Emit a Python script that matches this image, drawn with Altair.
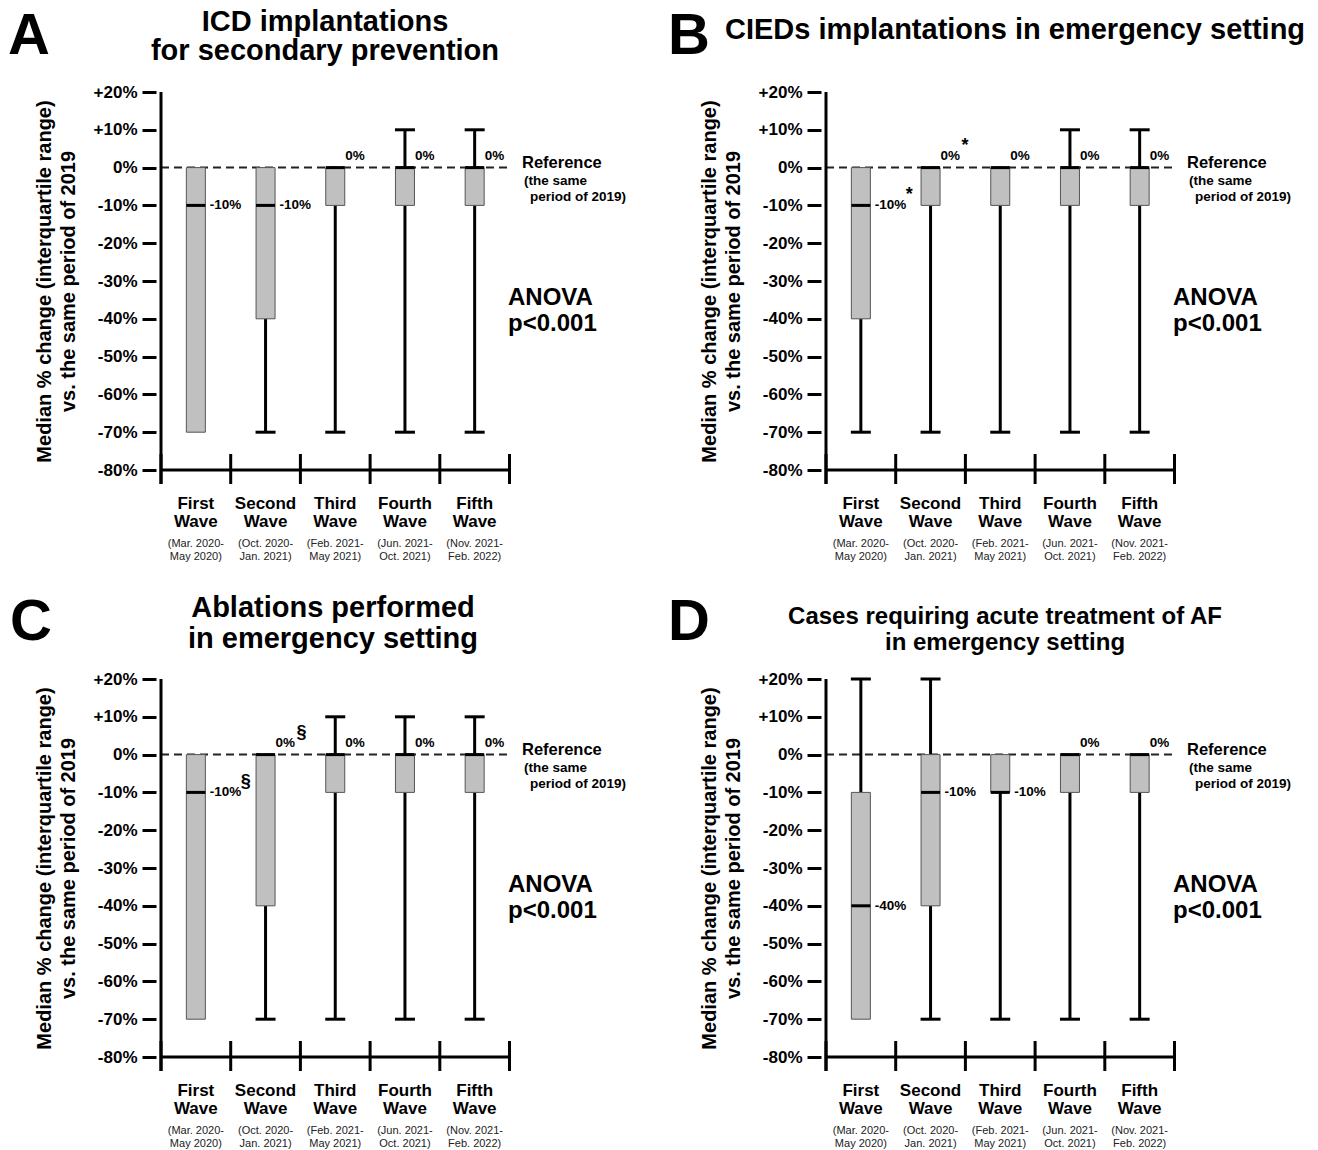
import altair as alt
import pandas as pd

# ---------------- data ----------------
waves = ["First", "Second", "Third", "Fourth", "Fifth"]
period_start = ["(Mar. 2020-", "(Oct. 2020-", "(Feb. 2021-", "(Jun. 2021-", "(Nov. 2021-"]
period_end = ["May 2020)", "Jan. 2021)", "May 2021)", "Oct. 2021)", "Feb. 2022)"]

# Panel A: ICD implantations for secondary prevention
a_min = [-70, -70, -70, -70, -70]
a_q1 = [-70, -40, -10, -10, -10]
a_med = [-10, -10, 0, 0, 0]
a_q3 = [0, 0, 0, 0, 0]
a_max = [0, 0, 0, 10, 10]
a_sup = ["", "", "", "", ""]

# Panel B: CIEDs implantations in emergency setting
b_min = [-70, -70, -70, -70, -70]
b_q1 = [-40, -10, -10, -10, -10]
b_med = [-10, 0, 0, 0, 0]
b_q3 = [0, 0, 0, 0, 0]
b_max = [0, 0, 0, 10, 10]
b_sup = ["*", "*", "", "", ""]

# Panel C: Ablations performed in emergency setting
c_min = [-70, -70, -70, -70, -70]
c_q1 = [-70, -40, -10, -10, -10]
c_med = [-10, 0, 0, 0, 0]
c_q3 = [0, 0, 0, 0, 0]
c_max = [0, 0, 10, 10, 10]
c_sup = ["§", "§", "", "", ""]

# Panel D: Cases requiring acute treatment of AF in emergency setting
d_min = [-70, -70, -70, -70, -70]
d_q1 = [-70, -40, -10, -10, -10]
d_med = [-40, -10, -10, 0, 0]
d_q3 = [-10, 0, 0, 0, 0]
d_max = [20, 20, 0, 0, 0]
d_sup = ["", "", "", "", ""]

y_ticks = [20, 10, 0, -10, -20, -30, -40, -50, -60, -70, -80]
y_title = ["Median % change (interquartile range)", "vs. the same period of 2019"]
ref_lines = ["Reference", "(the same", "period of 2019)"]
anova_lines = ["ANOVA", "p<0.001"]

# ---------------- layout ----------------
FONT = "Liberation Sans"
N = len(waves)
UNIT = 71.2
XMAX = 6.7
W = round(XMAX * UNIT)
H = 378

xscale = alt.Scale(domain=[0, XMAX], nice=False, zero=False)
yscale = alt.Scale(domain=[-80, 20], nice=False, zero=False)
yaxis = alt.Axis(
    values=y_ticks,
    labelExpr="datum.value > 0 ? '+' + datum.value + '%' : datum.value + '%'",
    labelFontSize=17, labelFontWeight="bold", labelColor="black", labelPadding=5,
    tickSize=14, tickWidth=3, tickColor="black", domain=False, grid=False,
    title=y_title, titleFontSize=20, titleFontWeight="bold", titleColor="black",
    titleLineHeight=24, titlePadding=15,
)


def X(field):
    return alt.X(field, type="quantitative", scale=xscale, axis=None)


def Y(field):
    return alt.Y(field, type="quantitative", scale=yscale, axis=yaxis)


def panel(letter, letter_x, letter_y, title_lines, title_x, title_ys, title_size,
          mins, q1s, meds, q3s, maxs, sups):
    df = pd.DataFrame({
        "pos": [i + 0.5 for i in range(N)],
        "wave": [w + "\nWave" for w in waves],
        "period": [s + "\n" + e for s, e in zip(period_start, period_end)],
        "mn": mins, "q1": q1s, "med": meds, "q3": q3s, "mx": maxs, "sup": sups,
    })
    df["label"] = [f"{v}%" for v in meds]
    base = alt.Chart(df)

    edges = pd.DataFrame({"e": list(range(N + 1))})
    frame = pd.DataFrame({"x0": [0], "x1": [N], "y0": [-80], "zero": [0], "x1r": [N + 0.03]})

    layers = []
    # dashed reference line at 0
    layers.append(alt.Chart(frame).mark_rule(strokeDash=[8, 5], strokeWidth=2, color="#222")
                  .encode(x=X("x0"), x2="x1r", y=Y("zero")))
    # axis lines
    layers.append(alt.Chart(frame).mark_rule(strokeWidth=3, color="black")
                  .encode(x=X("x0"), y=alt.value(0), y2=alt.value(H + 14)))
    layers.append(alt.Chart(frame).mark_rule(strokeWidth=3, color="black")
                  .encode(x=X("x0"), x2="x1", y=Y("y0")))
    layers.append(alt.Chart(edges).mark_rule(strokeWidth=3, color="black")
                  .encode(x=X("e"), y=alt.value(H - 16), y2=alt.value(H + 14)))
    # whiskers
    layers.append(base.mark_rule(strokeWidth=3, color="black").encode(x=X("pos"), y=Y("mn"), y2="q1"))
    layers.append(base.mark_rule(strokeWidth=3, color="black").encode(x=X("pos"), y=Y("q3"), y2="mx"))
    # boxes
    layers.append(base.mark_bar(size=19, color="#c0c0c0", stroke="#555555", strokeWidth=1, opacity=1)
                  .encode(x=X("pos"), y=Y("q1"), y2="q3"))
    # medians
    layers.append(base.mark_tick(orient="horizontal", size=19, thickness=3, color="black", opacity=1)
                  .encode(x=X("pos"), y=Y("med")))
    # caps
    layers.append(base.transform_filter("datum.mn < datum.q1")
                  .mark_tick(orient="horizontal", size=20, thickness=3, color="black", opacity=1)
                  .encode(x=X("pos"), y=Y("mn")))
    layers.append(base.transform_filter("datum.mx > datum.q3")
                  .mark_tick(orient="horizontal", size=20, thickness=3, color="black", opacity=1)
                  .encode(x=X("pos"), y=Y("mx")))
    # median labels
    layers.append(base.transform_filter("datum.med != 0")
                  .mark_text(align="left", baseline="middle", dx=14, fontSize=13.5,
                             fontWeight="bold", color="black")
                  .encode(x=X("pos"), y=Y("med"), text="label:N"))
    layers.append(base.transform_filter("datum.med == 0")
                  .mark_text(align="left", baseline="middle", dx=10, dy=-12, fontSize=13.5,
                             fontWeight="bold", color="black")
                  .encode(x=X("pos"), y=Y("med"), text="label:N"))
    layers.append(base.transform_filter("datum.med != 0 && datum.sup != ''")
                  .mark_text(align="left", baseline="middle", dx=45, dy=-10, fontSize=18,
                             fontWeight="bold", color="black")
                  .encode(x=X("pos"), y=Y("med"), text="sup:N"))
    layers.append(base.transform_filter("datum.med == 0 && datum.sup != ''")
                  .mark_text(align="left", baseline="middle", dx=31, dy=-22, fontSize=18,
                             fontWeight="bold", color="black")
                  .encode(x=X("pos"), y=Y("med"), text="sup:N"))
    # category labels
    layers.append(base.mark_text(align="center", baseline="alphabetic", fontSize=17,
                                 fontWeight="bold", color="black", lineBreak="\n", lineHeight=18)
                  .encode(x=X("pos"), y=alt.value(H + 39), text="wave:N"))
    layers.append(base.mark_text(align="center", baseline="alphabetic", fontSize=11,
                                 color="#222", lineBreak="\n", lineHeight=13)
                  .encode(x=X("pos"), y=alt.value(H + 77), text="period:N"))
    # reference annotation
    ref = alt.Chart(frame)
    layers.append(ref.mark_text(align="left", baseline="alphabetic", fontSize=16.5,
                                fontWeight="bold", color="black")
                  .encode(x=alt.value(366), y=Y("zero"), text=alt.value(ref_lines[0])))
    layers.append(ref.mark_text(align="left", baseline="alphabetic", fontSize=13.5, dy=17,
                                fontWeight="bold", color="black")
                  .encode(x=alt.value(368), y=Y("zero"), text=alt.value(ref_lines[1])))
    layers.append(ref.mark_text(align="left", baseline="alphabetic", fontSize=13.5, dy=33,
                                fontWeight="bold", color="black")
                  .encode(x=alt.value(374), y=Y("zero"), text=alt.value(ref_lines[2])))
    # ANOVA
    layers.append(ref.mark_text(align="left", baseline="alphabetic", fontSize=24,
                                fontWeight="bold", color="black")
                  .encode(x=alt.value(352), y=alt.value(213), text=alt.value(anova_lines[0])))
    layers.append(ref.mark_text(align="left", baseline="alphabetic", fontSize=24,
                                fontWeight="bold", color="black")
                  .encode(x=alt.value(352), y=alt.value(239), text=alt.value(anova_lines[1])))
    # panel letter
    layers.append(ref.mark_text(align="left", baseline="alphabetic", fontSize=58,
                                fontWeight="bold", color="black")
                  .encode(x=alt.value(letter_x), y=alt.value(letter_y), text=alt.value(letter)))
    # title lines
    for line, ty in zip(title_lines, title_ys):
        layers.append(ref.mark_text(align="center", baseline="alphabetic", fontSize=title_size,
                                    fontWeight="bold", color="black")
                      .encode(x=alt.value(title_x), y=alt.value(ty), text=alt.value(line)))

    return alt.layer(*layers).properties(width=W, height=H)


pA = panel("A", -148, -38, ["ICD implantations", "for secondary prevention"], 169, [-61, -32], 29,
           a_min, a_q1, a_med, a_q3, a_max, a_sup)
pB = panel("B", -153, -38, ["CIEDs implantations in emergency setting"], 194, [-53], 29,
           b_min, b_q1, b_med, b_q3, b_max, b_sup)
pC = panel("C", -146, -39, ["Ablations performed", "in emergency setting"], 177, [-62, -31], 29,
           c_min, c_q1, c_med, c_q3, c_max, c_sup)
pD = panel("D", -153, -39, ["Cases requiring acute treatment of AF", "in emergency setting"], 184, [-55, -29], 24,
           d_min, d_q1, d_med, d_q3, d_max, d_sup)

chart = alt.concat(pA, pB, pC, pD, columns=2,
                   spacing={"row": 209, "column": 188}, bounds="flush").properties(
    padding=0
).configure(
    font=FONT, background="white"
).configure_view(stroke=None)

chart.save("out.html", embed_options={"renderer": "svg", "actions": False})
